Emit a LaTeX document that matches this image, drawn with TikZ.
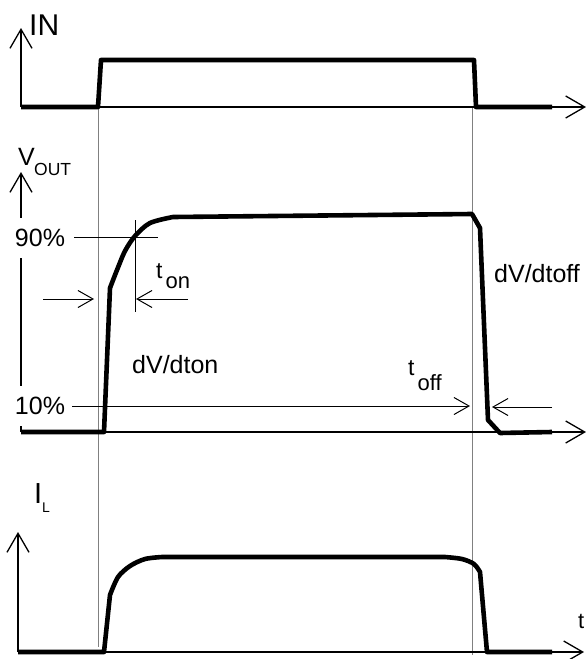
\documentclass[tikz,border=0pt]{standalone}
\usepackage{fontspec}
\setmainfont{Liberation Sans}
\usepackage{tikz}
\usetikzlibrary{arrows.meta}
\newcommand{\fs}[1]{\fontsize{#1}{#1}\selectfont}
\newcommand{\dropsub}[2]{\hspace{3pt}\raisebox{-#1}{#2}}

\begin{document}
\begin{tikzpicture}[x=1pt,y=-1pt,
  sig/.style={line width=4.6pt,line join=round},
  sigaxis/.style={line width=1.3pt,-{Straight Barb[length=19pt,width=22pt]}},
  guide/.style={gray,line width=1pt},
  dimline/.style={line width=1pt},
  dimarrow/.style={line width=1pt,-{Straight Barb[length=15pt,width=17pt]}},
  lbl/.style={anchor=base west,inner sep=0pt},
  pct/.style={fill=white,inner xsep=1pt,inner ysep=0pt,minimum height=40pt,font=\fs{25}}]
\useasboundingbox (0,0) rectangle (586,659);
% axes
\coordinate (inO) at (21,107); \coordinate (inY) at (21,28);  \coordinate (inX) at (586,107);
\coordinate (vO)  at (21,432); \coordinate (vY)  at (21,172); \coordinate (vX)  at (586,432);
\coordinate (iO)  at (18,652); \coordinate (iY)  at (18,532); \coordinate (iX)  at (584,652);
\coordinate (onT) at (98,107);  \coordinate (onB) at (98,647);
\coordinate (offT) at (472,107); \coordinate (offB) at (472,655);
\draw[guide] (onT) -- (onB);
\draw[guide] (offT) -- (offB);
\draw[sigaxis] (inO) -- (inY);
\draw[sigaxis] (inO) -- (inX);
\draw[sigaxis] (vO) -- (vY);
\draw[sigaxis] (vO) -- (vX);
\draw[sigaxis] (iO) -- (iY);
\draw[sigaxis] (iO) -- (iX);
% labels
\node[lbl,font=\fs{30}] (inlbl) at (29,35) {IN};
\node[lbl,font=\fs{25}] (vlbl) at (18,165) {V};
\node[lbl,font=\fs{17.5}] (outlbl) at (34,175) {OUT};
\node[pct] (p90) at (40,238) {90\%};
\node[pct] (p10) at (40,406) {10\%};
\node[lbl,font=\fs{29}] (ilbl) at (34,503) {I};
\node[lbl,font=\fs{14}] (llbl) at (42,512) {L};
\node[lbl,font=\fs{23}] (ton) at (156,278) {t\dropsub{10pt}{\fs{22}on}};
\node[lbl,font=\fs{23}] (toff) at (408,375) {t\dropsub{15pt}{\fs{22}off}};
\node[lbl,font=\fs{25}] (dvon) at (132,373) {dV/dton};
\node[lbl,font=\fs{25}] (dvoff) at (494,282) {dV/dtoff};
\node[lbl,font=\fs{22}] (tlbl) at (578,628) {t};
% timing marks
\coordinate (h90a) at (74,237);  \coordinate (h90b) at (158,237);
\coordinate (v90a) at (135,220); \coordinate (v90b) at (135,312);
\draw[dimline] (h90a) -- (h90b);
\draw[dimline] (v90a) -- (v90b);
\coordinate (onLa) at (43,299);  \coordinate (onLb) at (94,299);
\coordinate (onRa) at (188,299); \coordinate (onRb) at (136,299);
\draw[dimarrow] (onLa) -- (onLb);
\draw[dimarrow] (onRa) -- (onRb);
\coordinate (h10a) at (72,406);  \coordinate (h10b) at (470,406);
\coordinate (offRa) at (552,407); \coordinate (offRb) at (492,407);
\draw[dimarrow] (h10a) -- (h10b);
\draw[dimarrow] (offRa) -- (offRb);
% signals
\draw[sig] (inO) -- (98,107) -- (101,60) -- (474,60) -- (476,107) -- (552,107);
\draw[sig] (vO) -- (104,432) -- plot[smooth] coordinates {(110,288) (117,270) (125,251) (135,236) (150,223) (173,217)}
  -- (472,214) -- (480,228) -- (488,420) -- (500,433) -- (552,432);
\draw[sig] (iO) -- (104,652) -- plot[smooth] coordinates {(110,595) (118,577) (130,566) (145,559) (162,557)}
  -- (445,557) -- plot[smooth] coordinates {(445,557) (462,559) (474,564) (480,572)} -- (487,652) -- (552,652);
\end{tikzpicture}
\end{document}
